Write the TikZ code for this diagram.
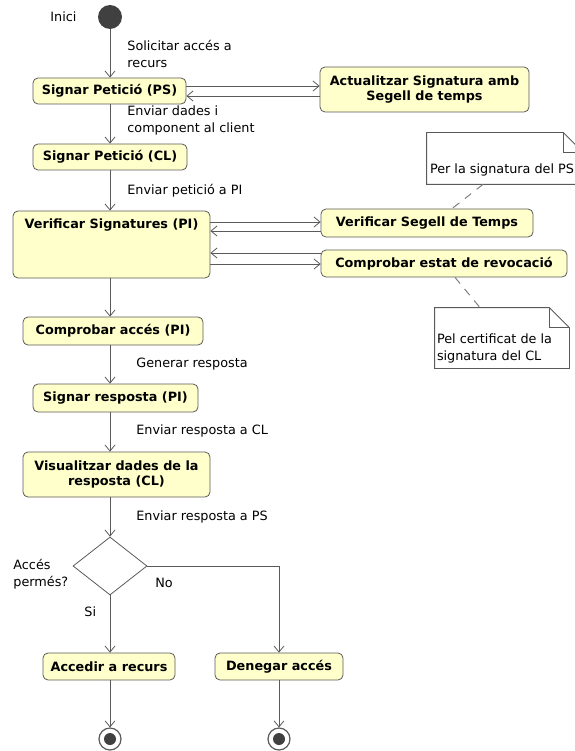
\documentclass[tikz,border=0pt]{standalone}
\usepackage{fontspec}
\setmainfont{DejaVu Sans}
\usepackage{tikz}
\usetikzlibrary{arrows.meta, shapes.geometric}

\definecolor{actfill}{RGB}{255,255,204}
\definecolor{linegray}{RGB}{90,90,90}
\definecolor{dotgray}{RGB}{64,64,64}

\begin{document}
\begin{tikzpicture}[x=1pt, y=-1pt, line width=0.8pt,
    act/.style={draw=linegray, fill=actfill, rounded corners=5pt, align=center,
        inner sep=0pt, font=\fontsize{12.8}{15}\selectfont\bfseries},
    flow/.style={draw=linegray, -{Straight Barb[length=6pt, width=10pt]}},
    lbl/.style={anchor=west, align=left, inner sep=0pt, font=\fontsize{12.8}{17}\selectfont},
    note/.style={inner sep=0pt},
    noteline/.style={draw=linegray},
    dashline/.style={draw=gray, line width=1pt, dash pattern=on 8pt off 7pt},
    startnode/.style={circle, fill=dotgray, minimum size=24pt, inner sep=0pt},
    endnode/.style={circle, draw=linegray, line width=1.2pt, minimum size=22pt, inner sep=0pt,
        path picture={\fill[dotgray] (path picture bounding box.center) circle (6pt);}}]
    \useasboundingbox (0,0) rectangle (574,751);

    % activities
    \node[startnode] (ini) at (110,17) {};
    \node[act, minimum width=153pt, minimum height=26pt] (ps) at (109.5,91) {Signar Petició (PS)};
    \node[act, minimum width=209pt, minimum height=45pt] (act) at (424.5,89.5) {Actualitzar Signatura amb\\Segell de temps};
    \node[act, minimum width=154pt, minimum height=26pt] (cl) at (110,157) {Signar Petició (CL)};
    \node[act, minimum width=197pt, minimum height=67pt,
        label={[anchor=north, yshift=-4pt, font=\fontsize{12.8}{15}\selectfont\bfseries]north:Verificar Signatures (PI)}] (pi) at (111.5,244.5) {};
    \node[act, minimum width=212pt, minimum height=28pt] (vs) at (427,223) {Verificar Segell de Temps};
    \node[act, minimum width=246pt, minimum height=27pt] (ce) at (444,263.5) {Comprobar estat de revocació};
    \node[act, minimum width=180pt, minimum height=28pt] (ca) at (113,331) {Comprobar accés (PI)};
    \node[act, minimum width=165pt, minimum height=28pt] (sr) at (115.5,398) {Signar resposta (PI)};
    \node[act, minimum width=187pt, minimum height=45pt] (vd) at (116.5,474.5) {Visualitzar dades de la\\resposta (CL)};
    \node[diamond, draw=linegray, fill=white, minimum width=74pt, minimum height=58pt, inner sep=0pt] (dec) at (110,566) {};
    \node[act, minimum width=132pt, minimum height=27pt] (acc) at (109,666.5) {Accedir a recurs};
    \node[act, minimum width=128pt, minimum height=27pt] (den) at (279,666.5) {Denegar accés};
    \node[endnode] (fin1) at (110,739) {};
    \node[endnode] (fin2) at (279,739) {};

    % notes
    \node[note, minimum width=156pt, minimum height=51pt] (n1) at (505,158.5) {};
    \node[lbl, anchor=south west] (t1) at ([xshift=3pt, yshift=8pt]n1.south west) {Per la signatura del PS};
    \node[note, minimum width=134pt, minimum height=60pt] (n2) at (502,338) {};
    \node[lbl, anchor=south west] (t2) at ([xshift=2pt, yshift=5pt]n2.south west) {Pel certificat de la\\signatura del CL};
    \foreach \n in {n1, n2} {
        \draw[noteline] (\n.south west) -- (\n.north west) -- ([xshift=-20pt]\n.north east)
            -- ([yshift=-20pt]\n.north east) -- (\n.south east) -- cycle;
        \draw[noteline] ([xshift=-20pt]\n.north east) |- ([yshift=-20pt]\n.north east);
    }
    \draw[dashline] ([xshift=-22pt]n1.south) -- ([xshift=25pt]vs.north);
    \draw[dashline] ([xshift=11pt]ce.south) -- ([xshift=-22pt]n2.north);

    % flows
    \draw[flow] (ini) -- (ini |- ps.north);
    \draw[flow] (ps.south -| ini) -- (cl.north -| ini);
    \draw[flow] (cl.south -| ini) -- (pi.north -| ini);
    \draw[flow] (pi.south -| ini) -- (ca.north -| ini);
    \draw[flow] (ca.south -| ini) -- (sr.north -| ini);
    \draw[flow] (sr.south -| ini) -- (vd.north -| ini);
    \draw[flow] (vd.south -| ini) -- (dec.north);
    \draw[flow] (dec.south) -- (acc.north -| dec);
    \draw[flow] (dec.east) -| (den.north);
    \draw[flow] (acc.south -| dec) -- (fin1);
    \draw[flow] (den) -- (fin2);

    \coordinate (ps1) at ([yshift=5pt]ps.east);
    \coordinate (ps2) at ([yshift=-5pt]ps.east);
    \draw[flow] (ps1) -- (ps1 -| act.west);
    \draw[flow] (ps2 -| act.west) -- (ps2);
    \coordinate (pi1) at ([yshift=22.5pt]pi.east);
    \coordinate (pi2) at ([yshift=13.5pt]pi.east);
    \coordinate (pi3) at ([yshift=-8.5pt]pi.east);
    \coordinate (pi4) at ([yshift=-19.5pt]pi.east);
    \draw[flow] (pi1) -- (pi1 -| vs.west);
    \draw[flow] (pi2 -| vs.west) -- (pi2);
    \draw[flow] (pi3 -| ce.west) -- (pi3);
    \draw[flow] (pi4) -- (pi4 -| ce.west);

    % labels
    \node[lbl] (l0) at (50,17) {Inici};
    \node[lbl] (l1) at (127,53.5) {Solicitar accés a\\recurs};
    \node[lbl] (l2) at (127,120.5) {Enviar dades i\\component al client};
    \node[lbl] (l3) at (127,191) {Enviar petició a PI};
    \node[lbl] (l4) at (136,364) {Generar resposta};
    \node[lbl] (l5) at (136,431) {Enviar resposta a CL};
    \node[lbl] (l6) at (136,517) {Enviar resposta a PS};
    \node[lbl] (l7) at (13,574) {Accés\\permés?};
    \node[lbl] (l8) at (155,583) {No};
    \node[lbl] (l9) at (84,612) {Si};
\end{tikzpicture}
\end{document}
